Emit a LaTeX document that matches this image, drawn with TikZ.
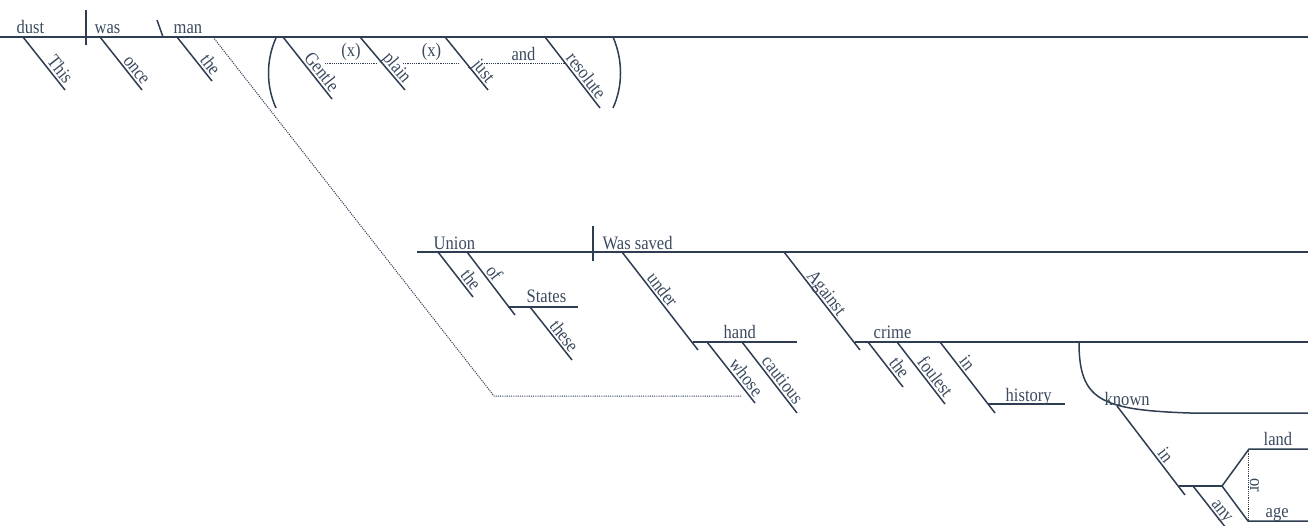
\documentclass[tikz,border=0pt]{standalone}
\usepackage{fontspec}
\setmainfont{Liberation Serif}[FakeStretch=0.87]
\definecolor{ink}{HTML}{3B4A5F}
\definecolor{stroke}{HTML}{2E3D52}
\tikzstyle{word} = [text=ink, font=\fontsize{19}{21}\selectfont, inner sep=1.5pt]
\tikzstyle{slant} = [word, sloped, above, text depth=0pt, inner sep=2pt]
\tikzstyle{rule} = [draw=stroke, line width=1.5pt]
\tikzstyle{dots} = [draw=stroke, line width=1pt, dash pattern=on 1.1pt off 1.1pt]
\begin{document}
\begin{tikzpicture}[x=1pt, y=-1pt]
    \useasboundingbox (0,0) rectangle (1308,525);
    % first clause
    \draw [rule] (0,37) -- (1308,37);
    \draw [rule] (86,10) -- (86,45);
    \draw [rule] (157,20) -- (163,37);
    \node (dust) [word, anchor=base west] at (15,33) {dust};
    \node (was) [word, anchor=base west] at (93,33) {was};
    \node (man) [word, anchor=base west] at (172,33) {man};
    \draw [rule] (23,37) -- node (this) [slant, pos=.72] {This} (65,90);
    \draw [rule] (100,37) -- node (once) [slant, pos=.72] {once} (142,90);
    \draw [rule] (177,37) -- node (the1) [slant, pos=.76] {the} (212,81);
    \draw [dots] (213,37) -- (494,396) -- (742,396);
    % the bracket of adjectives
    \draw [rule] (276,38) .. controls (266,60) and (266,86) .. (276,108);
    \draw [rule] (613,37) .. controls (623,60) and (623,86) .. (613,108);
    \draw [rule] (283,37) -- node (gentle) [slant, pos=.65] {Gentle} (332,99);
    \draw [rule] (360,37) -- node (plain) [slant, pos=.68] {plain} (405,90);
    \draw [rule] (445,37) -- node (just) [slant, pos=.74] {just} (488,90);
    \draw [rule] (545,37) -- node (resolute) [slant, pos=.62] {resolute} (600,108);
    \draw [dots] (325,63) -- node (x1) [word, above] {(x)} (377,63);
    \draw [dots] (403,63) -- node (x2) [word, above] {(x)} (460,63);
    \draw [dots] (482,63) -- node (and) [word, above] {and} (565,63);
    % second clause
    \draw [rule] (417,252) -- (1308,252);
    \draw [rule] (593,226) -- (593,261);
    \node (union) [word, anchor=base west] at (432,249) {Union};
    \node (saved) [word, anchor=base west] at (601,249) {Was saved};
    \draw [rule] (438,252) -- node (the2) [slant, pos=.74] {the} (473,297);
    \draw [rule] (467,252) -- node (of) [slant, pos=.42] {of} (515,315);
    \draw [rule] (508,307) -- (578,307);
    \node (states) [word, anchor=base west] at (525,302) {States};
    \draw [rule] (530,307) -- node (these) [slant, pos=.65] {these} (572,360);
    \draw [rule] (622,252) -- node (under) [slant, pos=.44] {under} (698,350);
    \draw [rule] (693,342) -- (797,342);
    \node (hand) [word, anchor=base west] at (722,338) {hand};
    \draw [rule] (707,342) -- node (whose) [slant, pos=.67] {whose} (755,403);
    \draw [rule] (742,342) -- node (cautious) [slant, pos=.61] {cautious} (797,413);
    \draw [rule] (784,252) -- node (against) [slant, pos=.47] {Against} (860,350);
    \draw [rule] (855,342) -- (1308,342);
    \node (crime) [word, anchor=base west] at (872,338) {crime};
    \draw [rule] (868,342) -- node (the3) [slant, pos=.70] {the} (903,387);
    \draw [rule] (897,342) -- node (foulest) [slant, pos=.65] {foulest} (945,404);
    \draw [rule] (940,342) -- node (in1) [slant, pos=.37] {in} (995,413);
    \draw [rule] (988,404) -- (1065,404);
    \node (history) [word, anchor=base west] at (1004,401) {history};
    % known in any land or age
    \draw [rule] (1079,342) .. controls (1079,400) and (1100,410) .. (1190,413) -- (1308,413);
    \node (known) [word, anchor=base west] at (1103,405) {known};
    \draw [rule] (1117,406) -- node (in2) [slant, pos=.61] {in} (1185,495);
    \draw [rule] (1179,486) -- (1222,486);
    \draw [rule] (1193,486) -- node (any) [slant, pos=.70] {any} (1226,528);
    \draw [rule] (1222,486) -- (1249,449) -- (1308,449);
    \draw [rule] (1222,486) -- (1248,521) -- (1308,521);
    \draw [dots] (1248,449) -- node (or) [word, rotate=-90, anchor=south] {or} (1248,521);
    \node (land) [word, anchor=base west] at (1262,445) {land};
    \node (age) [word, anchor=base west] at (1264,517) {age};
\end{tikzpicture}
\end{document}
